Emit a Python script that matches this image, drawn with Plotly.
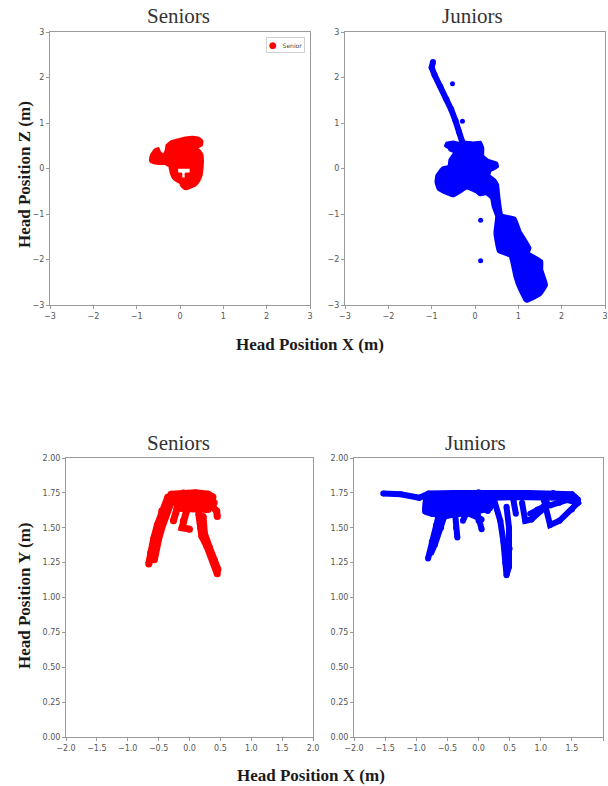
import plotly.graph_objects as go

# ---------------- data ----------------
# Top row: Head Position X vs Z
# seniors: outline of the traced cloud (with the small T-shaped gap inside)
senior_xz_x = [-0.69, -0.66, -0.58, -0.50, -0.46, -0.38, -0.33, -0.31, -0.20, -0.05, 0.12, 0.30,
               0.45, 0.52, 0.50, 0.38, 0.45, 0.52, 0.53, 0.52, 0.50, 0.44, 0.35, 0.25, 0.12,
               0.08, 0.13, 0.13, 0.24, 0.24, -0.06, -0.06, 0.03, 0.03, 0.08, 0.12,
               0.04, 0.00, -0.08, -0.17, -0.22, -0.25, -0.35, -0.50, -0.62, -0.69]
senior_xz_z = [0.22, 0.32, 0.42, 0.45, 0.36, 0.30, 0.40, 0.52, 0.60, 0.64, 0.68, 0.70,
               0.67, 0.60, 0.50, 0.45, 0.40, 0.30, 0.15, 0.00, -0.14, -0.28, -0.38, -0.42, -0.46,
               -0.22, -0.22, -0.11, -0.11, 0.01, 0.01, -0.11, -0.11, -0.22, -0.22, -0.46,
               -0.40, -0.32, -0.28, -0.20, -0.08, 0.05, 0.10, 0.10, 0.12, 0.16]

# juniors: upper trail, dense body with lower trail, and isolated samples
junior_xz_tail_x = [-0.97, -1.00, -0.93, -0.80, -0.66, -0.55, -0.45, -0.37, -0.30]
junior_xz_tail_z = [2.34, 2.22, 2.05, 1.80, 1.52, 1.30, 1.05, 0.80, 0.60]
junior_xz_body_x = [-0.65, -0.50, -0.35, -0.25, -0.05, 0.12, 0.18, 0.18, 0.30, 0.50, 0.52, 0.35,
                    0.32, 0.45, 0.52, 0.55, 0.62, 0.92, 1.04, 1.27, 1.23, 1.54, 1.54, 1.65,
                    1.50, 1.19, 1.15, 1.00, 0.92, 0.81, 0.54, 0.46, 0.50, 0.42, 0.38, 0.25,
                    0.12, 0.04, -0.19, -0.35, -0.50, -0.65, -0.85, -0.90, -0.88, -0.75,
                    -0.60, -0.58, -0.50, -0.46, -0.58, -0.60, -0.68]
junior_xz_body_z = [0.56, 0.58, 0.55, 0.58, 0.56, 0.58, 0.45, 0.28, 0.18, 0.12, 0.04, -0.05,
                    -0.15, -0.25, -0.35, -0.62, -1.02, -1.09, -1.38, -1.75, -1.85, -2.04, -2.22, -2.56,
                    -2.78, -2.92, -2.89, -2.60, -2.37, -1.93, -1.82, -1.42, -1.05, -0.84, -0.65, -0.55,
                    -0.58, -0.52, -0.43, -0.52, -0.60, -0.55, -0.45, -0.30, -0.15, 0.01,
                    0.05, 0.19, 0.30, 0.36, 0.41, 0.45, 0.50]
junior_xz_dots_x = [-0.52, -0.29, 0.13, 0.13]
junior_xz_dots_z = [1.86, 1.04, -1.14, -2.03]

# Bottom row: Head Position X vs Y ; each inner list is one traced stroke
senior_xy_x = [
    [-0.30, -0.10, 0.10, 0.30, 0.38],
    [-0.28, -0.10, 0.10, 0.30, 0.40],
    [-0.22, 0.00, 0.20, 0.35, 0.44, 0.45],
    [-0.20, 0.00, 0.15, 0.30],
    [-0.35, -0.45, -0.52, -0.58, -0.63, -0.66],
    [-0.30, -0.38, -0.45, -0.50, -0.55, -0.57],
    [-0.33, -0.42, -0.50, -0.60],
    [-0.20, -0.26],
    [-0.05, -0.10, -0.12, 0.00],
    [0.15, 0.18, 0.20, 0.28, 0.35, 0.42, 0.45],
    [0.22, 0.24, 0.32, 0.40, 0.46],
]
senior_xy_y = [
    [1.74, 1.75, 1.75, 1.74, 1.72],
    [1.71, 1.72, 1.72, 1.71, 1.68],
    [1.68, 1.68, 1.68, 1.66, 1.62, 1.58],
    [1.64, 1.64, 1.64, 1.63],
    [1.72, 1.62, 1.52, 1.42, 1.32, 1.24],
    [1.68, 1.60, 1.50, 1.42, 1.32, 1.27],
    [1.66, 1.56, 1.46, 1.30],
    [1.64, 1.55],
    [1.62, 1.55, 1.50, 1.49],
    [1.60, 1.50, 1.44, 1.37, 1.30, 1.22, 1.17],
    [1.58, 1.46, 1.36, 1.27, 1.20],
]

junior_xy_x = [
    [-1.53, -1.25, -0.95, -0.80, -0.40, 0.00, 0.40, 0.80, 1.20, 1.50, 1.60],
    [-0.85, -0.50, -0.10, 0.25, 0.55, 0.90, 1.30, 1.58],
    [-0.85, -0.70, -0.40, -0.10, 0.15],
    [-0.75, -0.50, -0.25, 0.00, 0.15],
    [-0.55, -0.35, -0.15, 0.05],
    [-0.60, -0.68, -0.75, -0.81],
    [-0.52, -0.60, -0.70, -0.76],
    [-0.38, -0.36, -0.34],
    [-0.05, 0.00, 0.05],
    [-0.20, -0.25],
    [0.25, 0.35, 0.40, 0.43, 0.45, 0.49, 0.50, 0.49, 0.45],
    [0.56, 0.60],
    [0.70, 0.75, 0.85, 1.00, 1.10],
    [0.83, 0.95, 1.04],
    [1.05, 1.15, 1.30, 1.50, 1.60, 1.55],
    [1.15, 1.30, 1.50],
]
junior_xy_y = [
    [1.745, 1.74, 1.715, 1.745, 1.75, 1.755, 1.75, 1.75, 1.75, 1.74, 1.70],
    [1.72, 1.715, 1.72, 1.715, 1.72, 1.72, 1.715, 1.68],
    [1.62, 1.68, 1.69, 1.69, 1.69],
    [1.60, 1.65, 1.65, 1.66, 1.62],
    [1.58, 1.60, 1.60, 1.56],
    [1.66, 1.52, 1.40, 1.28],
    [1.62, 1.50, 1.38, 1.32],
    [1.62, 1.50, 1.43],
    [1.66, 1.55, 1.49],
    [1.60, 1.55],
    [1.70, 1.55, 1.40, 1.25, 1.16, 1.22, 1.35, 1.50, 1.65],
    [1.70, 1.60],
    [1.68, 1.55, 1.56, 1.62, 1.68],
    [1.60, 1.63, 1.65],
    [1.70, 1.52, 1.55, 1.63, 1.68, 1.72],
    [1.66, 1.68, 1.71],
]
# dense part under the top band (juniors)
junior_xy_dense_x = [-0.86, 0.25, 0.20, 0.00, -0.30, -0.55, -0.75, -0.88]
junior_xy_dense_y = [1.71, 1.71, 1.63, 1.61, 1.59, 1.58, 1.59, 1.61]

top_ticks = [-3, -2, -1, 0, 1, 2, 3]
bottom_x_ticks = [-2.0, -1.5, -1.0, -0.5, 0.0, 0.5, 1.0, 1.5, 2.0]
bottom_y_ticks = [0.00, 0.25, 0.50, 0.75, 1.00, 1.25, 1.50, 1.75, 2.00]
titles = ["Seniors", "Juniors", "Seniors", "Juniors"]
legend_name = "Senior"


def flatten(strokes):
    out = []
    for s in strokes:
        out.extend(s)
        out.append(None)
    return out


RED = "#ff0000"
BLUE = "#0000ff"

fig = go.Figure()


def add_strokes(xs, ys, color, axis, width, msize):
    fx, fy = flatten(xs), flatten(ys)
    fig.add_trace(go.Scatter(x=fx, y=fy, mode="lines", xaxis="x" + axis, yaxis="y" + axis,
                             line=dict(color=color, width=width), showlegend=False,
                             hoverinfo="skip"))
    fig.add_trace(go.Scatter(x=fx, y=fy, mode="markers", xaxis="x" + axis, yaxis="y" + axis,
                             marker=dict(color=color, size=msize), showlegend=False))


def add_blob(xs, ys, color, axis, width, name=None):
    fig.add_trace(go.Scatter(x=xs + [xs[0]], y=ys + [ys[0]], mode="lines", fill="toself",
                             fillcolor=color, xaxis="x" + axis, yaxis="y" + axis,
                             line=dict(color=color, width=width, shape="spline", smoothing=0.3),
                             name=name or "", showlegend=False))


add_blob(senior_xz_x, senior_xz_z, RED, "", 2, legend_name)
add_blob(junior_xz_body_x, junior_xz_body_z, BLUE, "2", 3)
add_strokes([junior_xz_tail_x], [junior_xz_tail_z], BLUE, "2", 6, 6)
fig.add_trace(go.Scatter(x=junior_xz_dots_x, y=junior_xz_dots_z, mode="markers", xaxis="x2", yaxis="y2",
                         marker=dict(color=BLUE, size=5), showlegend=False))
add_strokes(senior_xy_x, senior_xy_y, RED, "3", 7, 7)
add_blob(junior_xy_dense_x, junior_xy_dense_y, BLUE, "4", 3)
add_strokes(junior_xy_x, junior_xy_y, BLUE, "4", 6, 6)

W, H = 608, 786


def dom_x(a, b):
    return [a / W, b / W]


def dom_y(top, bottom):
    return [1 - bottom / H, 1 - top / H]


tickfont = dict(family="DejaVu Sans", size=8, color="#555555")
axis_common = dict(showgrid=False, zeroline=False, showline=True, mirror=True,
                   linecolor="#9a9a9a", linewidth=1, ticks="outside", ticklen=3,
                   tickcolor="#9a9a9a", tickfont=tickfont, fixedrange=True,
                   automargin=False)

layout = dict(
    width=W, height=H,
    margin=dict(l=0, r=0, t=0, b=0),
    paper_bgcolor="white", plot_bgcolor="white",
    xaxis=dict(domain=dom_x(50, 310), range=[-3, 3], tickvals=top_ticks, anchor="y", **axis_common),
    yaxis=dict(domain=dom_y(32, 305), range=[-3, 3], tickvals=top_ticks, anchor="x", **axis_common),
    xaxis2=dict(domain=dom_x(345, 605), range=[-3, 3], tickvals=top_ticks, anchor="y2", **axis_common),
    yaxis2=dict(domain=dom_y(32, 305), range=[-3, 3], tickvals=top_ticks, anchor="x2", **axis_common),
    xaxis3=dict(domain=dom_x(66, 313), range=[-2, 2], tickvals=bottom_x_ticks, tickformat=".1f",
                anchor="y3", **axis_common),
    yaxis3=dict(domain=dom_y(458, 737), range=[0, 2], tickvals=bottom_y_ticks, tickformat=".2f",
                anchor="x3", **axis_common),
    xaxis4=dict(domain=dom_x(354, 603), range=[-2, 2], tickvals=bottom_x_ticks, tickformat=".1f",
                anchor="y4", **axis_common),
    yaxis4=dict(domain=dom_y(458, 737), range=[0, 2], tickvals=bottom_y_ticks, tickformat=".2f",
                anchor="x4", **axis_common),
    showlegend=False,
)
fig.update_layout(**layout)

# compact legend box for the seniors panel
fig.add_annotation(x=305 / W, y=1 - 37 / H, xref="paper", yref="paper", xanchor="right", yanchor="top",
                   text="<span style='color:#ff0000;font-size:9px'>●</span>&nbsp;&nbsp;&nbsp;" + legend_name,
                   showarrow=False, font=dict(family="DejaVu Sans", size=6, color="#444444"),
                   bordercolor="#d0d0d0", borderwidth=1, borderpad=2, bgcolor="white")

title_font = dict(family="Liberation Serif", size=21, color="#333333")
label_font = dict(family="Liberation Serif", size=17, color="#1a1a1a")
annos = [
    (178, 16, titles[0], title_font, 0),
    (472, 16, titles[1], title_font, 0),
    (178, 443, titles[2], title_font, 0),
    (475, 443, titles[3], title_font, 0),
    (310, 344, "<b>Head Position X (m)</b>", label_font, 0),
    (311, 775, "<b>Head Position X (m)</b>", label_font, 0),
    (24, 175, "<b>Head Position Z (m)</b>", label_font, -90),
    (24, 596, "<b>Head Position Y (m)</b>", label_font, -90),
]
for px, py, text, font, ang in annos:
    fig.add_annotation(x=px / W, y=1 - py / H, xref="paper", yref="paper", text=text,
                       showarrow=False, font=font, textangle=ang, xanchor="center", yanchor="middle")

fig.write_html("out.html", config={"displayModeBar": False},
               post_script="document.body.style.margin='0px';")
